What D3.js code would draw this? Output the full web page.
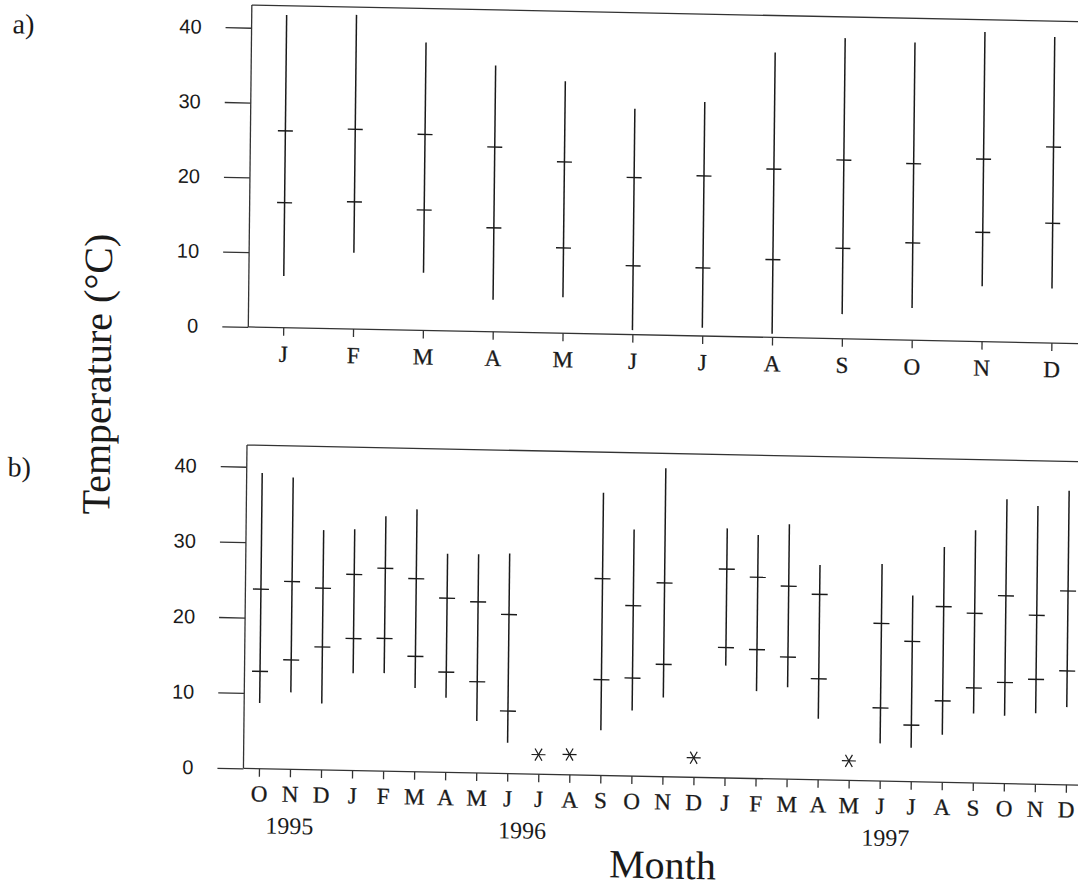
<!DOCTYPE html>
<html>
<head>
<meta charset="utf-8">
<script src="https://cdn.jsdelivr.net/npm/d3@7"></script>
<style>
  html, body { margin: 0; padding: 0; background: #fff; }
  svg { display: block; }
</style>
</head>
<body>
<svg id="chart" width="1078" height="889"></svg>
<script>
// ---- Panel a: long-term monthly temperatures (°C) ----
const monthsA = ["J", "F", "M", "A", "M", "J", "J", "A", "S", "O", "N", "D"];
const aAbsMax  = [41.8, 42.0, 38.5, 35.6, 33.7, 30.2, 31.3, 38.1, 40.2, 39.8, 41.4, 40.9];
const aMeanMax = [26.3, 26.7, 26.2, 24.7, 22.9, 21.0, 21.4, 22.5, 23.9, 23.6, 24.4, 26.2];
const aMeanMin = [16.7, 17.0, 16.1, 13.9, 11.4, 9.2, 9.1, 10.4, 12.1, 13.0, 14.6, 16.0];
const aAbsMin  = [6.9, 10.2, 7.7, 4.3, 4.8, 0.6, 1.1, 0.5, 3.3, 4.3, 7.4, 7.3];

// ---- Panel b: monthly temperatures, Oct 1995 – Dec 1997 (°C) ----
const monthsB = ["O", "N", "D", "J", "F", "M", "A", "M", "J", "J", "A", "S", "O", "N",
                 "D", "J", "F", "M", "A", "M", "J", "J", "A", "S", "O", "N", "D"];
const bAbsMax  = [39.2, 38.7, 31.8, 32.0, 33.8, 34.8, 29.0, 29.0, 29.2, null, null, 37.5, 32.7, 40.9,
                  null, 33.1, 32.3, 33.8, 28.5, null, 28.8, 24.7, 31.2, 33.5, 37.7, 36.9, 39.0];
const bMeanMax = [23.8, 24.9, 24.1, 26.0, 26.9, 25.6, 23.1, 22.7, 21.1, null, null, 26.1, 22.6, 25.7,
                  null, 27.7, 26.7, 25.6, 24.6, null, 20.9, 18.6, 23.3, 22.5, 24.9, 22.4, 25.7];
const bMeanMin = [12.9, 14.5, 16.3, 17.5, 17.6, 15.3, 13.3, 12.1, 8.3, null, null, 12.7, 13.0, 14.9,
                  null, 17.3, 17.1, 16.2, 13.4, null, 9.7, 7.5, 10.8, 12.6, 13.4, 13.9, 15.1];
const bAbsMin  = [8.7, 10.2, 8.8, 12.9, 13.0, 11.1, 9.9, 6.9, 4.1, null, null, 6.0, 8.7, 10.5,
                  null, 14.9, 11.6, 12.2, 8.1, null, 5.0, 4.5, 6.3, 9.2, 9.0, 9.4, 10.3];
// months with a single reading only (drawn as asterisks)
const bSingle  = [null, null, null, null, null, null, null, null, null, 2.6, 2.7, null, null, null,
                  2.6, null, null, null, null, 2.6, null, null, null, null, null, null, null];
const yearLabels = ["1995", "1996", "1997"];
const yearAt     = [1, 8.5, 20.2];

const yTicks = [0, 10, 20, 30, 40];

const ink = "#1a1a1a";
const serif = "'Liberation Serif', 'Times New Roman', serif";
const sans = "'Liberation Sans', Arial, sans-serif";

const svg = d3.select("#chart");
// the whole figure sits slightly askew on the page
const fig = svg.append("g")
  .attr("transform", "translate(245,445) matrix(1,0.02,-0.011,1,0,0) translate(-245,-445)");

const left = 247, right = 1085;

function drawPanel(o) {
  const n = o.labels.length;
  const x = d3.scalePoint().domain(d3.range(n)).range([left, right]).padding(0.5);
  const y = d3.scaleLinear().domain([0, 40]).range([o.zeroY, o.fortyY]);
  const topY = o.topY;
  const g = fig.append("g");

  // top border
  g.append("line")
    .attr("x1", left).attr("x2", right + 20)
    .attr("y1", topY).attr("y2", topY)
    .attr("stroke", "#333").attr("stroke-width", 1.3);

  // y axis
  const yAxis = d3.axisLeft(y).tickValues(yTicks).tickSize(26).tickPadding(24).tickSizeOuter(0);
  const ya = g.append("g").attr("transform", `translate(${left},0)`).call(yAxis);
  ya.select(".domain").remove();
  ya.selectAll(".tick line").attr("stroke", "#333").attr("stroke-width", 1.3);
  ya.selectAll(".tick text")
    .attr("font-family", sans).attr("font-size", 20).attr("fill", ink);
  g.append("line")
    .attr("x1", left).attr("x2", left)
    .attr("y1", topY).attr("y2", y(0))
    .attr("stroke", "#333").attr("stroke-width", 1.3);

  // x axis
  const xAxis = d3.axisBottom(x).tickSize(8).tickSizeOuter(0).tickFormat(i => o.labels[i]);
  const xa = g.append("g").attr("transform", `translate(0,${y(0)})`).call(xAxis);
  xa.select(".domain").remove();
  xa.selectAll(".tick line").attr("stroke", "#333").attr("stroke-width", 1.3);
  xa.selectAll(".tick text")
    .attr("font-family", serif).attr("font-size", o.monthFont).attr("fill", ink)
    .attr("stroke", ink).attr("stroke-width", 0.3)
    .attr("dy", null).attr("y", o.monthBaseline - y(0));
  g.append("line")
    .attr("x1", left).attr("x2", right + 20)
    .attr("y1", y(0)).attr("y2", y(0))
    .attr("stroke", "#333").attr("stroke-width", 1.3);

  const idx = d3.range(n).filter(i => o.hi[i] != null);

  // extreme range lines
  g.selectAll(".range").data(idx).join("line")
    .attr("x1", i => x(i)).attr("x2", i => x(i))
    .attr("y1", i => y(o.hi[i])).attr("y2", i => y(o.lo[i]))
    .attr("stroke", ink).attr("stroke-width", 1.5);

  // mean maximum / mean minimum cross-ticks
  [o.up, o.dn].forEach(arr => {
    g.selectAll(null).data(idx).join("line")
      .attr("x1", i => x(i) - o.half).attr("x2", i => x(i) + o.half)
      .attr("y1", i => y(arr[i])).attr("y2", i => y(arr[i]))
      .attr("stroke", ink).attr("stroke-width", 1.4);
  });

  // asterisks for single readings
  if (o.single) {
    const sIdx = d3.range(n).filter(i => o.single[i] != null);
    const r = 7;
    const arms = [0, 60, 120].map(a => a * Math.PI / 180);
    sIdx.forEach(i => {
      const cx = x(i), cy = y(o.single[i]);
      arms.forEach(a => {
        g.append("line")
          .attr("x1", cx - r * Math.cos(a)).attr("x2", cx + r * Math.cos(a))
          .attr("y1", cy - r * Math.sin(a)).attr("y2", cy + r * Math.sin(a))
          .attr("stroke", ink).attr("stroke-width", 1.2);
      });
    });
  }

  // year captions under the month letters
  if (o.years) {
    const step = x.step();
    o.years.forEach((t, k) => {
      g.append("text")
        .attr("x", x(0) + o.yearAt[k] * step)
        .attr("y", o.yearBaseline)
        .attr("text-anchor", "middle")
        .attr("font-family", serif).attr("font-size", 24).attr("fill", ink)
        .text(t);
    });
  }

  // panel letter
  g.append("text")
    .attr("x", 8).attr("y", o.letterY)
    .attr("font-family", serif).attr("font-size", 28).attr("fill", ink)
    .text(o.letter);
}

drawPanel({
  labels: monthsA, hi: aAbsMax, up: aMeanMax, dn: aMeanMin, lo: aAbsMin,
  zeroY: 326.9, fortyY: 27.7, topY: 5, half: 7.5,
  monthFont: 23, monthBaseline: 361, letter: "a)", letterY: 38
});

drawPanel({
  labels: monthsB, hi: bAbsMax, up: bMeanMax, dn: bMeanMin, lo: bAbsMin, single: bSingle,
  zeroY: 768.3, fortyY: 466.7, topY: 445, half: 8,
  monthFont: 23, monthBaseline: 801, years: yearLabels, yearAt: yearAt, yearBaseline: 833,
  letter: "b)", letterY: 481
});

// shared axis titles
fig.append("text")
  .attr("transform", "translate(110,377) rotate(-90)")
  .attr("text-anchor", "middle")
  .attr("font-family", serif).attr("font-size", 40).attr("fill", ink)
  .text("Temperature (°C)");

fig.append("text")
  .attr("x", 667).attr("y", 870)
  .attr("text-anchor", "middle")
  .attr("font-family", serif).attr("font-size", 40).attr("fill", ink)
  .text("Month");
</script>
</body>
</html>
